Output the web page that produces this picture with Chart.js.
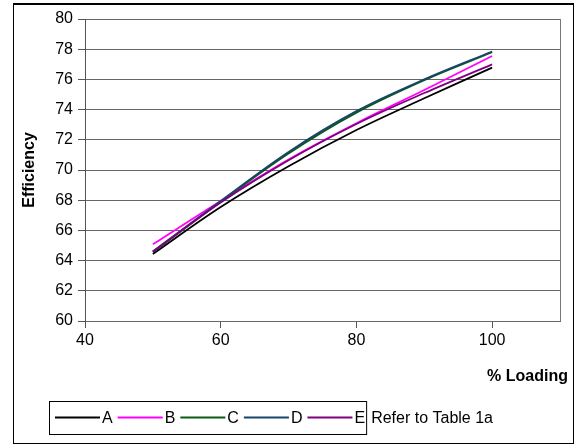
<!DOCTYPE html>
<html>
<head>
<meta charset="utf-8">
<script src="https://cdn.jsdelivr.net/npm/chart.js@4"></script>
<style>
  body { margin: 0; background: #fff; }
  #wrap { width: 576px; height: 445px; position: relative; }
</style>
</head>
<body>
<div id="wrap"><canvas id="grafico" width="576" height="445"></canvas></div>
<script>
// dados
const loading = [50, 60, 70, 80, 90, 100];
const serieA = [64.44, 67.55, 70.25, 72.65, 74.75, 76.78];
const serieB = [65.08, 67.95, 70.7, 73.1, 75.3, 77.55];
const serieC = [64.55, 67.9, 71.1, 73.8, 75.95, 77.8];
const serieD = [64.6, 67.95, 71.2, 73.9, 76.0, 77.85];
const serieE = [64.6, 67.85, 70.65, 73.05, 75.1, 77.0];
const nomes = ['A', 'B', 'C', 'D', 'E'];
const cores = ['#000000', '#ff00ff', '#0a5a14', '#17456b', '#800080'];
const xTicks = [40, 60, 80, 100];
const nota = 'Refer to Table 1a';

const fonte = 'Arial, "Liberation Sans", sans-serif';

function pontos(valores) {
  return loading.map((x, i) => ({ x: x, y: valores[i] }));
}

const series = [serieA, serieB, serieC, serieD, serieE];
const datasets = series.map((s, i) => ({
  label: nomes[i],
  data: pontos(s),
  borderColor: cores[i],
  backgroundColor: cores[i],
  borderWidth: 1.8,
  pointRadius: 0,
  tension: 0.35,
  fill: false,
  order: 5 - i // ultima serie por cima, como no Excel
}));

// moldura, titulo do eixo x e legenda desenhados a mao
const extras = {
  id: 'extras',
  afterDraw(chart) {
    const ctx = chart.ctx;
    const area = chart.chartArea;
    ctx.save();

    // borda direita da area do grafico
    ctx.strokeStyle = '#777';
    ctx.lineWidth = 1;
    ctx.beginPath();
    ctx.moveTo(area.right + 0.5, area.top);
    ctx.lineTo(area.right + 0.5, area.bottom);
    ctx.stroke();

    // moldura externa
    ctx.strokeStyle = '#000';
    ctx.lineWidth = 1;
    ctx.strokeRect(13.5, 4.5, 560, 439);
    ctx.lineWidth = 2;
    ctx.beginPath();
    ctx.moveTo(13, 4);
    ctx.lineTo(574, 4);
    ctx.stroke();

    // titulo do eixo x
    ctx.fillStyle = '#000';
    ctx.font = 'bold 16px ' + fonte;
    ctx.textAlign = 'right';
    ctx.textBaseline = 'middle';
    ctx.fillText('% Loading', 568, 377);

    // legenda
    ctx.font = '16px ' + fonte;
    ctx.textAlign = 'left';
    const boxX = 49, boxY = 401, boxH = 33;
    const cy = boxY + boxH / 2;
    let x = 55;
    chart.data.datasets.forEach((ds, i) => {
      ctx.strokeStyle = ds.borderColor;
      ctx.lineWidth = 1.8;
      ctx.beginPath();
      ctx.moveTo(x, cy);
      ctx.lineTo(x + 45, cy);
      ctx.stroke();
      x += 47;
      ctx.fillStyle = '#000';
      ctx.fillText(ds.label, x, cy + 1);
      x += ctx.measureText(ds.label).width;
      if (i < chart.data.datasets.length - 1) x += 5;
    });
    ctx.strokeStyle = '#000';
    ctx.lineWidth = 1;
    ctx.strokeRect(boxX + 0.5, boxY + 0.5, x - boxX + 1, boxH);

    ctx.fillText(nota, x + 6, cy + 1);
    ctx.restore();
  }
};

const ctx = document.getElementById('grafico').getContext('2d');
new Chart(ctx, {
  type: 'line',
  data: { datasets: datasets },
  plugins: [extras],
  options: {
    responsive: false,
    animation: false,
    layout: { padding: { left: 0, top: 19, right: 16, bottom: 0 } },
    plugins: {
      legend: { display: false },
      tooltip: { enabled: false }
    },
    scales: {
      x: {
        type: 'linear',
        min: 40,
        max: 110,
        afterBuildTicks: (scale) => { scale.ticks = xTicks.map(v => ({ value: v })); },
        afterFit: (scale) => { scale.height = 124; },
        grid: { drawOnChartArea: false, tickLength: 7, color: '#555' },
        border: { color: '#666', width: 1 },
        ticks: { color: '#000', padding: 3, maxRotation: 0, font: { family: fonte, size: 16 } }
      },
      y: {
        min: 60,
        max: 80,
        afterFit: (scale) => { scale.width = 85; },
        grid: { color: '#666', tickLength: 7, tickColor: '#555' },
        border: { color: '#555', width: 1 },
        ticks: { stepSize: 2, color: '#000', padding: 5, font: { family: fonte, size: 16 } },
        title: {
          display: true,
          text: 'Efficiency',
          color: '#000',
          padding: { top: 20 },
          font: { family: fonte, size: 16, weight: 'bold' }
        }
      }
    }
  }
});
</script>
</body>
</html>
